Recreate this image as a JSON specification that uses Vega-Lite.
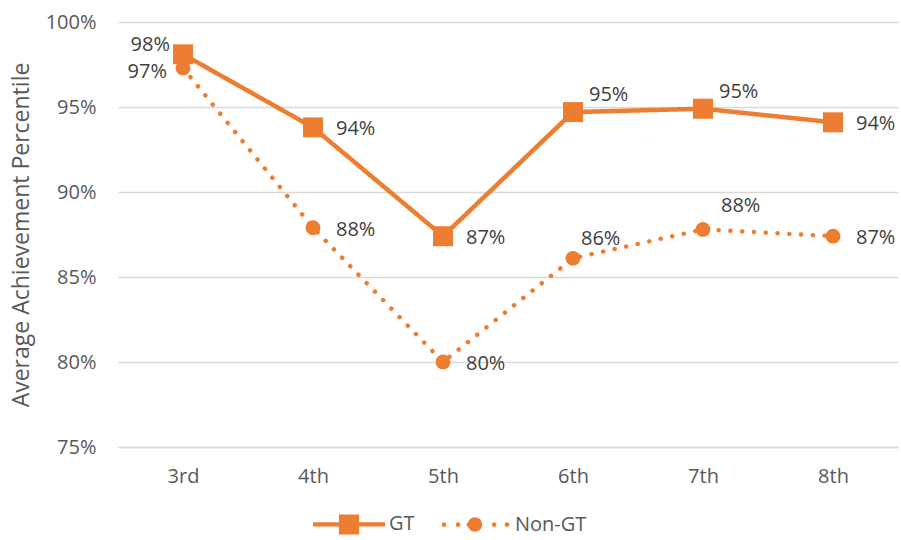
{
  "$schema": "https://vega.github.io/schema/vega-lite/v6.json",
  "width": 780,
  "height": 425,
  "autosize": {"type": "none"},
  "padding": {"left": 118, "top": 22, "right": 3, "bottom": 93},
  "background": "white",
  "config": {
    "font": "Open Sans",
    "view": {"stroke": null},
    "axis": {"labelFont": "Open Sans", "titleFont": "Open Sans", "labelColor": "#595959", "titleColor": "#595959", "labelFontSize": 20, "titleFontSize": 23, "titleFontWeight": "normal"},
    "legend": {"labelFont": "Open Sans", "labelFontSize": 20, "labelColor": "#595959"}
  },
  "data": {
    "values": [
      {"grade": "3rd", "series": "GT", "value": 0.981},
      {"grade": "4th", "series": "GT", "value": 0.938},
      {"grade": "5th", "series": "GT", "value": 0.874},
      {"grade": "6th", "series": "GT", "value": 0.947},
      {"grade": "7th", "series": "GT", "value": 0.949},
      {"grade": "8th", "series": "GT", "value": 0.941},
      {"grade": "3rd", "series": "Non-GT", "value": 0.973},
      {"grade": "4th", "series": "Non-GT", "value": 0.879},
      {"grade": "5th", "series": "Non-GT", "value": 0.800},
      {"grade": "6th", "series": "Non-GT", "value": 0.861},
      {"grade": "7th", "series": "Non-GT", "value": 0.878},
      {"grade": "8th", "series": "Non-GT", "value": 0.874}
    ]
  },
  "encoding": {
    "x": {
      "field": "grade", "type": "ordinal", "sort": ["3rd", "4th", "5th", "6th", "7th", "8th"],
      "scale": {"type": "point", "padding": 0.5},
      "axis": {"title": null, "labelAngle": 0, "ticks": false, "tickSize": 0, "labelPadding": 19, "domainColor": "#d9d9d9", "domainWidth": 1.5, "grid": false}
    },
    "y": {
      "field": "value", "type": "quantitative",
      "scale": {"domain": [0.75, 1.0], "nice": false, "zero": false},
      "axis": {"title": "Average Achievement Percentile", "format": ".0%", "values": [0.75, 0.8, 0.85, 0.9, 0.95, 1.0], "ticks": false, "tickSize": 0, "labelPadding": 22, "domain": false, "gridColor": "#d9d9d9", "gridWidth": 1.5, "titlePadding": 12}
    }
  },
  "layer": [
    {
      "mark": {"type": "line", "strokeWidth": 4.5, "strokeCap": "round", "color": "#ED7D31"},
      "encoding": {
        "detail": {"field": "series"},
        "strokeDash": {"field": "series", "type": "nominal", "scale": {"range": [[1, 0], [0.1, 11.7]]}, "legend": null}
      }
    },
    {
      "mark": {"type": "point", "filled": true, "opacity": 1, "color": "#ED7D31"},
      "encoding": {
        "shape": {"field": "series", "type": "nominal", "scale": {"range": ["square", "circle"]}, "legend": null},
        "size": {"field": "series", "type": "nominal", "scale": {"range": [400, 220]}, "legend": null}
      }
    },
    {
      "mark": {"type": "point", "filled": true, "opacity": 0, "size": 10},
      "encoding": {
        "fill": {
          "field": "series", "type": "nominal",
          "scale": {"domain": ["GT", "Non-GT"], "range": ["#ED7D31", "#ED7D31"]},
          "legend": {
            "title": null, "orient": "none", "direction": "horizontal",
            "legendX": 195, "legendY": 466,
            "symbolSize": 5184, "symbolStrokeWidth": 0, "symbolOpacity": 1,
            "labelOffset": 4, "columnPadding": 24,
            "encode": {
              "symbols": {
                "update": {
                  "fill": {"value": "#ED7D31"},
                  "opacity": {"value": 1},
                  "fillOpacity": {"value": 1},
                  "stroke": {"value": "transparent"},
                  "size": {"value": 5184},
                  "shape": {"signal": "datum.value === 'GT' ? 'M-1,-0.06H1V0.06H-1Z M-0.28,-0.28H0.28V0.28H-0.28Z' : 'M-0.925,0A0.065,0.065 0 1,0 -0.795,0A0.065,0.065 0 1,0 -0.925,0Z M-0.535,0A0.065,0.065 0 1,0 -0.405,0A0.065,0.065 0 1,0 -0.535,0Z M-0.235,0A0.065,0.065 0 1,0 -0.105,0A0.065,0.065 0 1,0 -0.235,0Z M-0.2,0A0.2,0.2 0 1,0 0.2,0A0.2,0.2 0 1,0 -0.2,0Z M0.465,0A0.065,0.065 0 1,0 0.595,0A0.065,0.065 0 1,0 0.465,0Z M0.825,0A0.065,0.065 0 1,0 0.955,0A0.065,0.065 0 1,0 0.825,0Z'"}
                }
              }
            }
          }
        }
      }
    },
    {
      "transform": [{"filter": "datum.grade === '4th' || datum.grade === '5th' || datum.grade === '8th'"}],
      "mark": {"type": "text", "align": "left", "baseline": "middle", "dx": 23, "dy": 2, "fontSize": 20, "color": "#404040", "font": "Open Sans"},
      "encoding": {"text": {"field": "value", "format": ".0%"}}
    },
    {
      "transform": [{"filter": "datum.series === 'GT' && (datum.grade === '6th' || datum.grade === '7th')"}],
      "mark": {"type": "text", "align": "left", "baseline": "middle", "dx": 16, "dy": -17, "fontSize": 20, "color": "#404040", "font": "Open Sans"},
      "encoding": {"text": {"field": "value", "format": ".0%"}}
    },
    {
      "transform": [{"filter": "datum.series === 'Non-GT' && datum.grade === '6th'"}],
      "mark": {"type": "text", "align": "left", "baseline": "middle", "dx": 8, "dy": -19, "fontSize": 20, "color": "#404040", "font": "Open Sans"},
      "encoding": {"text": {"field": "value", "format": ".0%"}}
    },
    {
      "transform": [{"filter": "datum.series === 'Non-GT' && datum.grade === '7th'"}],
      "mark": {"type": "text", "align": "left", "baseline": "middle", "dx": 18, "dy": -23, "fontSize": 20, "color": "#404040", "font": "Open Sans"},
      "encoding": {"text": {"field": "value", "format": ".0%"}}
    },
    {
      "transform": [{"filter": "datum.series === 'GT' && datum.grade === '3rd'"}],
      "mark": {"type": "text", "align": "right", "baseline": "middle", "dx": -13, "dy": -9, "fontSize": 20, "color": "#404040", "font": "Open Sans"},
      "encoding": {"text": {"field": "value", "format": ".0%"}}
    },
    {
      "transform": [{"filter": "datum.series === 'Non-GT' && datum.grade === '3rd'"}],
      "mark": {"type": "text", "align": "right", "baseline": "middle", "dx": -16, "dy": 4, "fontSize": 20, "color": "#404040", "font": "Open Sans"},
      "encoding": {"text": {"field": "value", "format": ".0%"}}
    }
  ]
}
